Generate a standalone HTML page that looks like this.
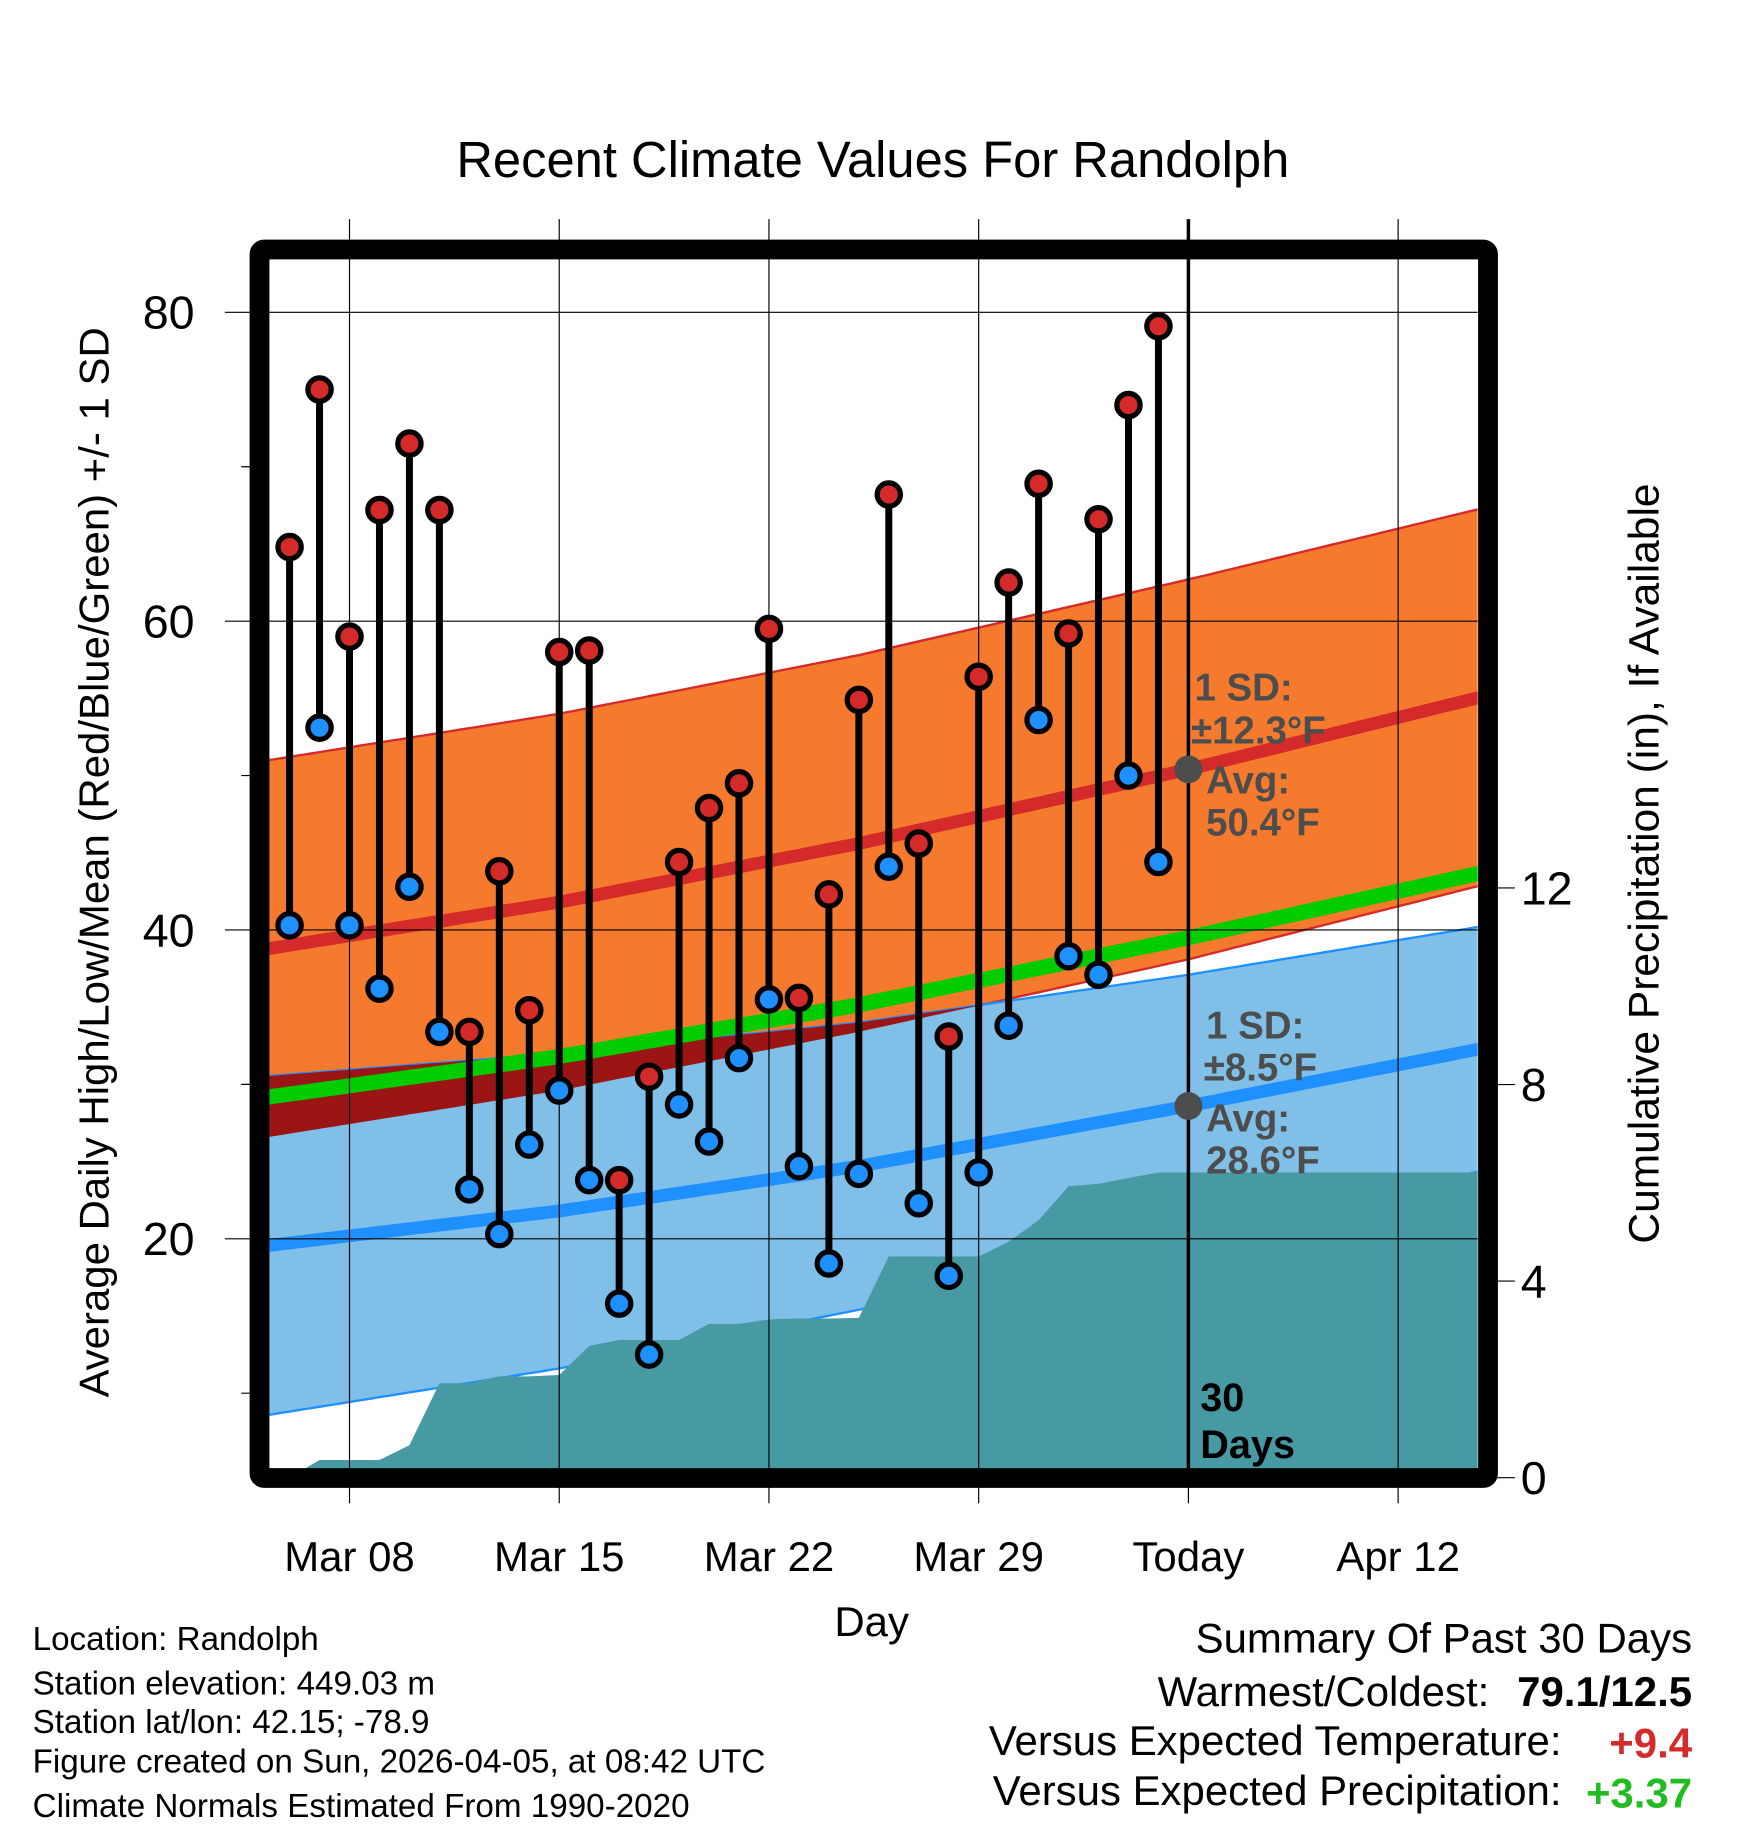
<!DOCTYPE html>
<html><head><meta charset="utf-8"><style>
html,body{margin:0;padding:0;background:#fff}
svg{display:block;font-family:"Liberation Sans",sans-serif}
</style></head><body>
<svg id="chart" width="1748" height="1828" viewBox="0 0 1500 1568.6" xmlns="http://www.w3.org/2000/svg">
<defs><clipPath id="plotclip"><rect x="231" y="222" width="1037" height="1038"/></clipPath></defs>
<g id="bands" clip-path="url(#plotclip)"></g>
<g id="grid"></g>
<g id="marks" clip-path="url(#plotclip)"></g>
<rect x="222.7" y="214.1" width="1054.2" height="1054.2" rx="4" fill="none" stroke="#000" stroke-width="17"/>
<g id="axes"></g>
<text x="749" y="152" font-size="43.5" text-anchor="middle">Recent Climate Values For Randolph</text>
<text transform="translate(93,740) rotate(-90)" font-size="36" text-anchor="middle">Average Daily High/Low/Mean (Red/Blue/Green) +/- 1 SD</text>
<text transform="translate(1423,741) rotate(-90)" font-size="36.5" text-anchor="middle">Cumulative Precipitation (in), If Available</text>
<text x="748" y="1404" font-size="36" text-anchor="middle">Day</text>
<g font-size="33" font-weight="bold" fill="#4d4d4d">
<text x="1025" y="601">1 SD:</text><text x="1022" y="638">±12.3°F</text><text x="1035" y="681">Avg:</text><text x="1035" y="717">50.4°F</text></g>
<g font-size="33" font-weight="bold" fill="#4d4d4d">
<text x="1035" y="891">1 SD:</text><text x="1033" y="927">±8.5°F</text><text x="1035" y="971">Avg:</text><text x="1035" y="1007">28.6°F</text></g>
<g font-size="34" font-weight="bold" fill="#000">
<text x="1030" y="1211">30</text><text x="1030" y="1251">Days</text></g>
<g font-size="28.5" fill="#000">
<text x="28" y="1416">Location: Randolph</text>
<text x="28" y="1454">Station elevation: 449.03 m</text>
<text x="28" y="1487">Station lat/lon: 42.15; -78.9</text>
<text x="28" y="1521">Figure created on Sun, 2026-04-05, at 08:42 UTC</text>
<text x="28" y="1559">Climate Normals Estimated From 1990-2020</text></g>
<g font-size="36" fill="#000">
<text x="1452" y="1418" text-anchor="end">Summary Of Past 30 Days</text>
<text x="1278" y="1464" text-anchor="end">Warmest/Coldest:</text>
<text x="1452" y="1464" text-anchor="end" font-weight="bold">79.1/12.5</text>
<text x="1340" y="1506" text-anchor="end">Versus Expected Temperature:</text>
<text x="1452" y="1508" text-anchor="end" font-weight="bold" fill="#d42a2a">+9.4</text>
<text x="1340" y="1549" text-anchor="end">Versus Expected Precipitation:</text>
<text x="1452" y="1551" text-anchor="end" font-weight="bold" fill="#22bb22">+3.37</text></g>
</svg>
<script>
// Data (day index: 0 = Mar 06, 30 = Today Apr 05)
const highs=[64.8,75.0,59.0,67.2,71.5,67.2,33.4,43.8,34.8,58.0,58.1,23.8,30.5,44.4,47.9,49.5,59.5,35.6,42.3,54.9,68.2,45.6,33.1,56.4,62.5,68.9,59.2,66.6,74.0,79.1];
const lows=[40.3,53.1,40.3,36.2,42.8,33.4,23.2,20.3,26.1,29.6,23.8,15.8,12.5,28.7,26.3,31.7,35.5,24.7,18.4,24.2,44.1,22.3,17.6,24.3,33.8,53.6,38.3,37.1,50.0,44.4];
const precip=[0,0.36,0.36,0.36,0.66,1.92,1.92,2.06,2.06,2.09,2.68,2.8,2.8,2.8,3.13,3.13,3.22,3.24,3.24,3.25,4.5,4.5,4.5,4.5,4.8,5.24,5.93,5.98,6.1,6.21,6.21,6.21,6.21,6.21,6.21,6.21,6.21,6.21,6.21,6.21,6.21];
const normDays=[-1,9,19,30,40];
const highMean=[38.7,41.8,45.6,50.4,55.2];
const highSD=[12.2,12.2,12.2,12.3,12.2];
const lowMean=[19.5,21.8,24.7,28.6,32.4];
const lowSD=[11.0,10.2,9.3,8.5,7.9];
const xTickDays=[2,9,16,23,30,37];
const xTickLabels=["Mar 08","Mar 15","Mar 22","Mar 29","Today","Apr 12"];
const yTicks=[20,40,60,80];
const yMinor=[10,30,50,70];
const pTicks=[0,4,8,12];

const NS="http://www.w3.org/2000/svg";
const X=d=>248.5+25.71*d;
const Y=t=>268+(80-t)*13.25;
const YP=p=>1268-p*42.17;
function mk(tag,attrs,parent){const e=document.createElementNS(NS,tag);for(const k in attrs)e.setAttribute(k,attrs[k]);parent.appendChild(e);return e;}
function interp(arr,d){for(let i=0;i<normDays.length-1;i++){if(d<=normDays[i+1]||i==normDays.length-2){const t=(d-normDays[i])/(normDays[i+1]-normDays[i]);return arr[i]+t*(arr[i+1]-arr[i]);}}}
const bands=document.getElementById('bands'),grid=document.getElementById('grid'),marks=document.getElementById('marks'),axes=document.getElementById('axes');
const samp=[];for(let d=-1;d<=40;d+=0.25)samp.push(d);
const hm=d=>interp(highMean,d),hs=d=>interp(highSD,d),lm=d=>interp(lowMean,d),ls=d=>interp(lowSD,d);
function bandPath(top,bot){let s=samp.map((d,i)=>(i?'L':'M')+X(d).toFixed(1)+','+Y(top(d)).toFixed(1)).join('');s+=samp.slice().reverse().map(d=>'L'+X(d).toFixed(1)+','+Y(bot(d)).toFixed(1)).join('');return s+'Z';}
function linePath(f){return samp.map((d,i)=>(i?'L':'M')+X(d).toFixed(1)+','+Y(f(d)).toFixed(1)).join('');}
let e;
e=mk('path',{d:bandPath(d=>hm(d)+hs(d),d=>hm(d)-hs(d)),fill:'#f57a2e',stroke:'#d42a2a','stroke-width':2},bands);

e=mk('path',{d:bandPath(d=>lm(d)+ls(d),d=>lm(d)-ls(d)),fill:'#80c0e8',stroke:'#1e90ff','stroke-width':2},bands);

e=mk('path',{d:bandPath(d=>Math.max(Math.min(lm(d)+ls(d),hm(d)+hs(d)),hm(d)-hs(d)),d=>hm(d)-hs(d)),fill:'#9b1515'},bands);

e=mk('path',{d:linePath(d=>(hm(d)+lm(d))/2),fill:'none',stroke:'#00cc00','stroke-width':13},bands);

e=mk('path',{d:linePath(hm),fill:'none',stroke:'#d42a2a','stroke-width':11},bands);

e=mk('path',{d:linePath(lm),fill:'none',stroke:'#1e90ff','stroke-width':11},bands);

// precip
let pd='M'+X(0)+','+YP(0);precip.forEach((p,i)=>{pd+='L'+X(i).toFixed(1)+','+YP(p).toFixed(1);});pd+='L'+X(precip.length-1)+','+YP(0)+'Z';
e=mk('path',{d:pd,fill:'#4799a3'},bands);

// gridlines
xTickDays.forEach((d,i)=>{const today=xTickLabels[i]==='Today';
 e=mk('line',{x1:X(d),x2:X(d),y1:188,y2:today?1260:1290,stroke:'#000','stroke-width':today?3:1},grid);
 
 if(today){e=mk('line',{x1:X(d),x2:X(d),y1:1260,y2:1290,stroke:'#000','stroke-width':1},grid);}
 e=mk('text',{x:X(d),y:1348,'font-size':36,'text-anchor':'middle'},axes);e.textContent=xTickLabels[i];
 });
yTicks.forEach(t=>{e=mk('line',{x1:193,x2:1268,y1:Y(t),y2:Y(t),stroke:'#000','stroke-width':1},grid);
 
 e=mk('text',{x:167,y:Y(t)+14,'font-size':40,'text-anchor':'end'},axes);e.textContent=t;
 });
yMinor.forEach(t=>{e=mk('line',{x1:207,x2:222,y1:Y(t),y2:Y(t),stroke:'#000','stroke-width':1},axes);
 });
pTicks.forEach(p=>{e=mk('line',{x1:1277,x2:1300,y1:YP(p),y2:YP(p),stroke:'#000','stroke-width':1},axes);
 
 e=mk('text',{x:1305,y:YP(p)+14,'font-size':40},axes);e.textContent=p;
 });
// today dots
[hm(30),lm(30)].forEach(v=>{e=mk('circle',{cx:X(30),cy:Y(v),r:12,fill:'#4d4d4d'},marks);
 });
// stems and points
highs.forEach((h,i)=>{e=mk('line',{x1:X(i),x2:X(i),y1:Y(h),y2:Y(lows[i]),stroke:'#000','stroke-width':6},marks);
 });
highs.forEach((h,i)=>{e=mk('circle',{cx:X(i),cy:Y(h),r:10,fill:'#d42a2a',stroke:'#000','stroke-width':4.5},marks);
 
 e=mk('circle',{cx:X(i),cy:Y(lows[i]),r:10,fill:'#1e90ff',stroke:'#000','stroke-width':4.5},marks);
 });
</script>
</body></html>
